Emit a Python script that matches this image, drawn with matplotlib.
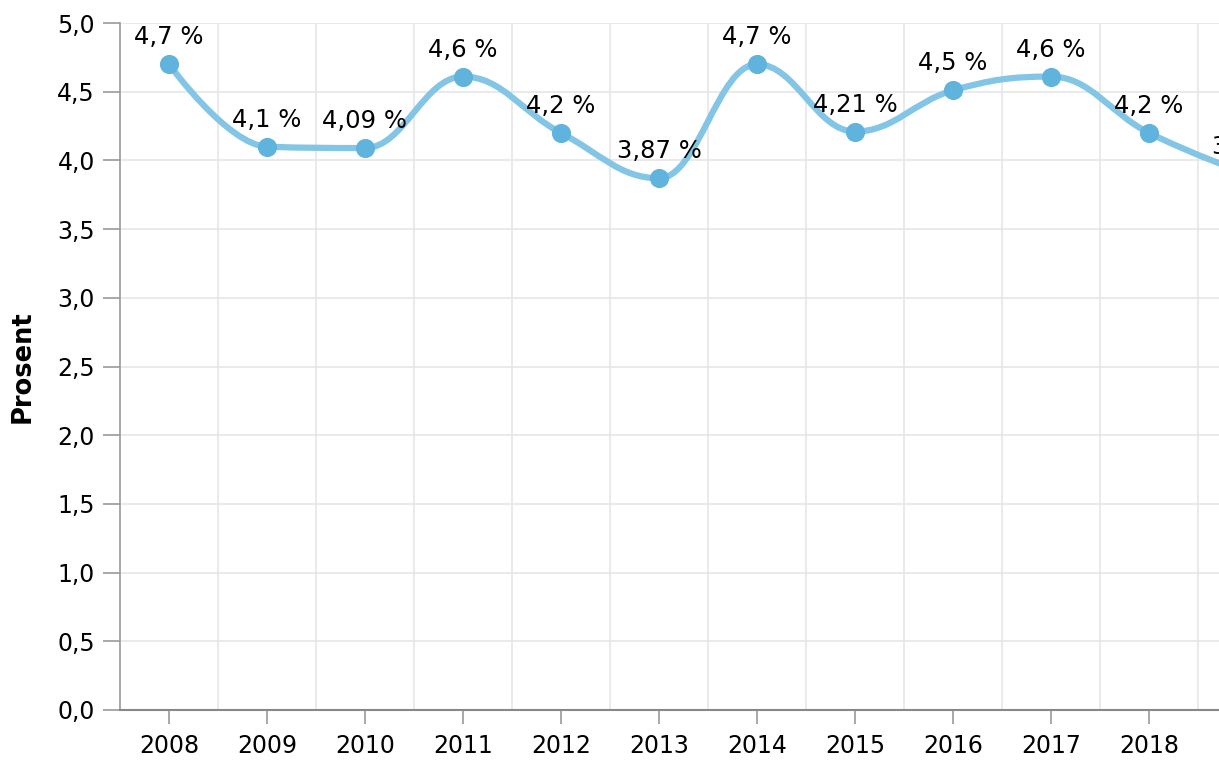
import matplotlib.pyplot as plt
from matplotlib.path import Path
from matplotlib.patches import PathPatch
from matplotlib.ticker import FixedLocator, FuncFormatter

years = ['2008', '2009', '2010', '2011', '2012', '2013', '2014', '2015',
         '2016', '2017', '2018', '2019']
values = [4.7, 4.1, 4.09, 4.61, 4.2, 3.87, 4.7, 4.21, 4.51, 4.61, 4.2, 3.9]
labels = ['4,7 %', '4,1 %', '4,09 %', '4,6 %', '4,2 %', '3,87 %', '4,7 %',
          '4,21 %', '4,5 %', '4,6 %', '4,2 %', '3,9 %']
y_ticks = [0.0, 0.5, 1.0, 1.5, 2.0, 2.5, 3.0, 3.5, 4.0, 4.5, 5.0]

line_color = '#82c5e5'
marker_color = '#5fb3dc'


def spline_path(xs, ys, smoothing=1.5):
    # highcharts-style spline control points
    denom = smoothing + 1
    n = len(xs)
    left = [(x, y) for x, y in zip(xs, ys)]
    right = [(x, y) for x, y in zip(xs, ys)]
    for i in range(1, n - 1):
        px, py = xs[i], ys[i]
        lx, ly = xs[i - 1], ys[i - 1]
        nx, ny = xs[i + 1], ys[i + 1]
        lcx = (smoothing * px + lx) / denom
        lcy = (smoothing * py + ly) / denom
        rcx = (smoothing * px + nx) / denom
        rcy = (smoothing * py + ny) / denom
        if rcx != lcx:
            corr = (rcy - lcy) * (rcx - px) / (rcx - lcx) + py - rcy
            lcy += corr
            rcy += corr
        if lcy > ly and lcy > py:
            lcy = max(ly, py)
            rcy = 2 * py - lcy
        elif lcy < ly and lcy < py:
            lcy = min(ly, py)
            rcy = 2 * py - lcy
        if rcy > ny and rcy > py:
            rcy = max(ny, py)
            lcy = 2 * py - rcy
        elif rcy < ny and rcy < py:
            rcy = min(ny, py)
            lcy = 2 * py - rcy
        left[i] = (lcx, lcy)
        right[i] = (rcx, rcy)
    verts = [(xs[0], ys[0])]
    codes = [Path.MOVETO]
    for i in range(1, n):
        verts += [right[i - 1], left[i], (xs[i], ys[i])]
        codes += [Path.CURVE4] * 3
    return Path(verts, codes)


plt.rcParams['font.family'] = ['Verdana', 'DejaVu Sans']

fig = plt.figure(figsize=(12.19, 7.6), dpi=100)
ax = fig.add_axes([120 / 1219, 50 / 760, 1176 / 1219, 687 / 760])

xs = list(range(len(years)))
ax.add_patch(PathPatch(spline_path(xs, values), facecolor='none',
                       edgecolor=line_color, lw=4.5, capstyle='round',
                       joinstyle='round', zorder=3))
ax.scatter(xs, values, s=190, color=marker_color, zorder=4, linewidths=0)

for x, v, lab in zip(xs, values, labels):
    ax.annotate(lab, (x, v), xytext=(0, 27), textcoords='offset pixels',
                ha='center', va='center', fontsize=17.5, color='black',
                zorder=5)

ax.set_xlim(-0.5, len(years) - 0.5)
ax.set_ylim(0, 5)
ax.set_xticks(xs)
ax.set_xticklabels(years)
ax.xaxis.set_minor_locator(FixedLocator([i + 0.5 for i in range(len(years))]))
ax.set_yticks(y_ticks)
ax.yaxis.set_major_formatter(FuncFormatter(lambda v, p: f'{v:.1f}'.replace('.', ',')))

ax.grid(axis='y', color='#e6e6e6', lw=1.2)
ax.grid(axis='x', which='minor', color='#e6e6e6', lw=1.2)
ax.set_axisbelow(True)

for side in ['top', 'right']:
    ax.spines[side].set_visible(False)
ax.spines['left'].set_color('#999999')
ax.spines['bottom'].set_color('#888888')
ax.spines['left'].set_linewidth(1.2)
ax.spines['bottom'].set_linewidth(1.5)

ax.tick_params(axis='y', length=12, width=1.2, color='#999999',
               labelsize=17, pad=6)
ax.tick_params(axis='x', which='major', length=10, width=1.2, color='#999999',
               labelsize=17, pad=7)
ax.tick_params(axis='x', which='minor', length=0)

ax.set_ylabel('Prosent', fontsize=18.5, fontweight='bold', labelpad=16)

fig.savefig('out.png', dpi=100)
